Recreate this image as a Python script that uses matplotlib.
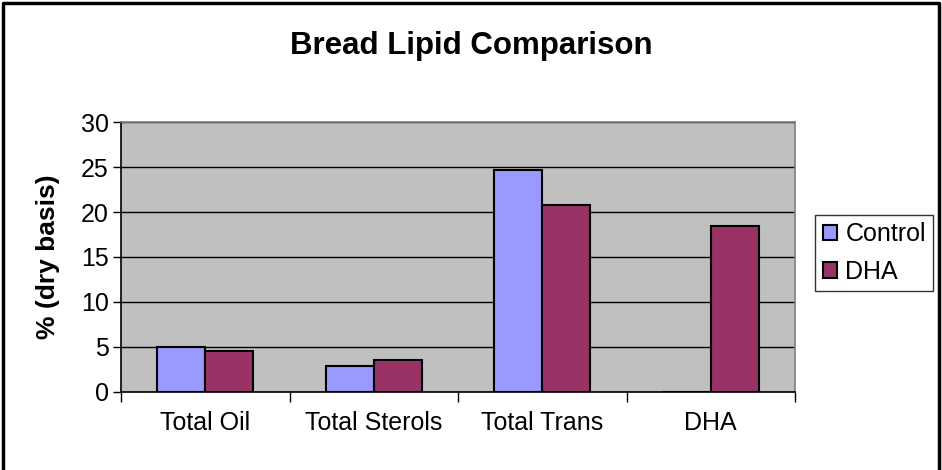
import numpy as np
from matplotlib import pyplot as plt
from matplotlib.lines import Line2D

plt.rcParams['font.family'] = ['Liberation Sans', 'DejaVu Sans']

categories = ['Total Oil', 'Total Sterols', 'Total Trans', 'DHA']
control = [5.0, 2.9, 24.7, 0.0]
dha = [4.6, 3.5, 20.8, 18.4]
series_names = ['Control', 'DHA']

fig = plt.figure(figsize=(9.42, 4.7), dpi=100)
ax = fig.add_axes([0.1285, 0.166, 0.7155, 0.5744])
ax.set_facecolor('#C0C0C0')

x = np.arange(len(categories))
w = 1 / 3.5
ax.bar(x - w / 2, control, w, color='#9999FF', edgecolor='black', linewidth=1.5,
       label=series_names[0], zorder=3)
ax.bar(x + w / 2, dha, w, color='#993366', edgecolor='black', linewidth=1.5,
       label=series_names[1], zorder=3)

ax.set_xlim(-0.5, len(categories) - 0.5)
ax.set_ylim(0, 30)
ax.set_yticks(range(0, 31, 5))
ax.yaxis.grid(True, color='black', linewidth=1.0, zorder=0)
ax.set_axisbelow(True)

ax.set_xticks(x)
ax.set_xticklabels(categories)
ax.set_xticks(np.arange(-0.5, len(categories)), minor=True)
ax.tick_params(axis='x', which='major', length=0, pad=14, labelsize=18)
ax.tick_params(axis='x', which='minor', length=7, width=1, color='black')
ax.tick_params(axis='y', length=6, width=1, labelsize=18, pad=3)

for side in ['top', 'right']:
    ax.spines[side].set_color('#808080')
    ax.spines[side].set_linewidth(1.2)
for side in ['left', 'bottom']:
    ax.spines[side].set_color('black')
    ax.spines[side].set_linewidth(1.2)

ax.set_ylabel('% (dry basis)', fontsize=19, fontweight='bold', labelpad=15)
fig.text(0.5, 0.902, 'Bread Lipid Comparison', ha='center', va='center',
         fontsize=22.5, fontweight='bold')

leg = ax.legend(loc='center left', bbox_to_anchor=(1.03, 0.515), fontsize=18,
                frameon=True, fancybox=False, edgecolor='black', handlelength=0.55,
                handleheight=0.55, handletextpad=0.35, borderpad=0.3,
                labelspacing=0.55, borderaxespad=0)
leg.get_frame().set_linewidth(1.0)

# outer chart border
fig.add_artist(Line2D([0.003, 0.003, 0.997, 0.997], [0.0, 0.994, 0.994, 0.0],
                      transform=fig.transFigure, color='black', linewidth=2.5))

fig.savefig('out.png', dpi=100)
